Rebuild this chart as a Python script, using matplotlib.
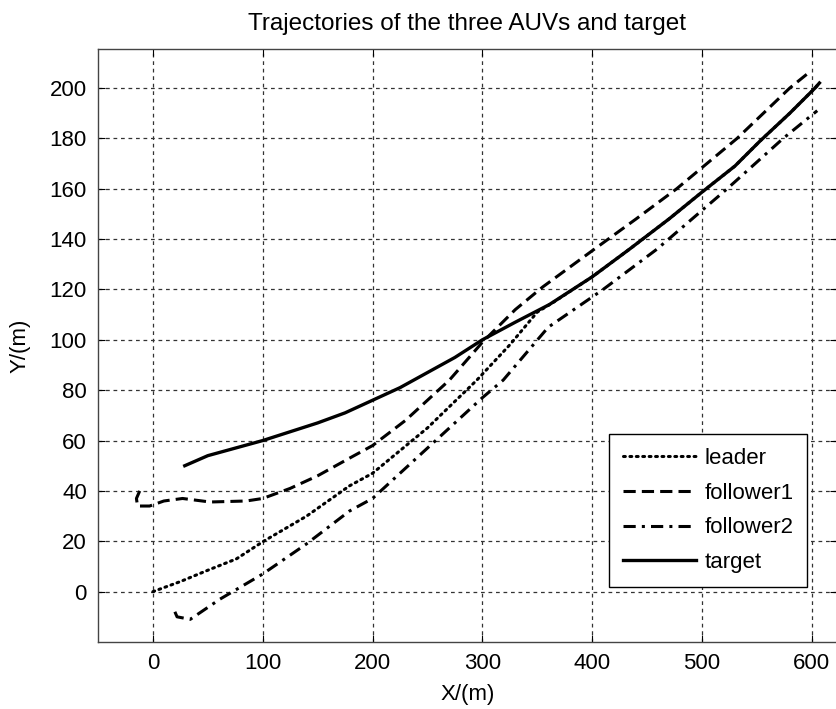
import matplotlib
matplotlib.use("Agg")
import matplotlib.pyplot as plt

# trajectories (X/m, Y/m)
target_x = [29, 50, 75, 100, 125, 150, 175, 200, 225, 250, 275, 300, 330, 361, 400, 434, 470, 501, 530, 553, 580, 603, 607]
target_y = [50, 54, 57, 60, 63.5, 67, 71, 76, 81, 87, 93, 100, 107, 114, 125, 136, 148, 159, 169, 179, 190, 200, 202]

leader_x = [0, 25, 50, 76, 100, 140, 179, 200, 250, 295, 325, 350, 365, 400, 434, 470, 501, 530, 553, 580, 603, 607]
leader_y = [0, 4, 8.5, 13, 19.8, 30, 42, 47, 65, 84, 98, 111, 115, 125, 136, 148, 159, 169, 179, 190, 200, 202]

f1_x = [-12, -15, -14, -3, 10, 27, 52, 85, 100, 125, 150, 179, 200, 230, 270, 300, 330, 355, 402, 440, 477, 532, 580, 597]
f1_y = [40, 37, 34, 34, 36, 37, 35.6, 36, 37, 41, 46, 53, 58, 68, 84, 99, 112, 121, 136, 148, 160, 180, 200, 206]

f2_x = [20, 22, 34, 61, 100, 140, 179, 200, 250, 300, 319, 360, 410, 459, 523, 574, 605]
f2_y = [-8, -10, -11, -3, 7, 19, 32, 37, 57, 77, 84, 105, 120, 136, 160, 180, 191]

x_ticks = [0, 100, 200, 300, 400, 500, 600]
y_ticks = [0, 20, 40, 60, 80, 100, 120, 140, 160, 180, 200]

plt.rcParams['font.family'] = ['Liberation Sans', 'DejaVu Sans']

fig = plt.figure(figsize=(8.37, 7.09), dpi=100)
ax = fig.add_axes([98 / 837, 1 - 642 / 709, 1 - 98 / 837, (642 - 49) / 709])

ax.plot(leader_x, leader_y, color='black', lw=2.2, dashes=(0.6, 1.5), dash_capstyle='round', label='leader')
ax.plot(f1_x, f1_y, color='black', lw=2.2, dashes=(4, 2), label='follower1')
ax.plot(f2_x, f2_y, color='black', lw=2.2, dashes=(4, 2, 1, 2), label='follower2')
ax.plot(target_x, target_y, color='black', lw=2.4, label='target')

ax.set_xlim(-50, 623)
ax.set_ylim(-20, 215.5)
ax.set_xticks(x_ticks)
ax.set_yticks(y_ticks)
ax.tick_params(direction='in', top=True, right=True, length=5, labelsize=16, pad=8)
ax.grid(True, color='#333333', linestyle=(0, (3, 3)), linewidth=0.9)
for s in ax.spines.values():
    s.set_color('#444444')
    s.set_linewidth(1.0)

ax.set_xlabel('X/(m)', fontsize=16, labelpad=7)
ax.set_ylabel('Y/(m)', fontsize=16, labelpad=14)
ax.set_title('Trajectories of the three AUVs and target', fontsize=17.5, pad=14)

leg = ax.legend(loc='lower right', bbox_to_anchor=(0.9595, 0.0927), borderaxespad=0,
                fontsize=16, handlelength=3.3, handletextpad=0.35, fancybox=False, framealpha=1,
                edgecolor='black', labelspacing=0.62, borderpad=0.62)
leg.get_frame().set_linewidth(1.0)

fig.savefig('out.png', dpi=100)
